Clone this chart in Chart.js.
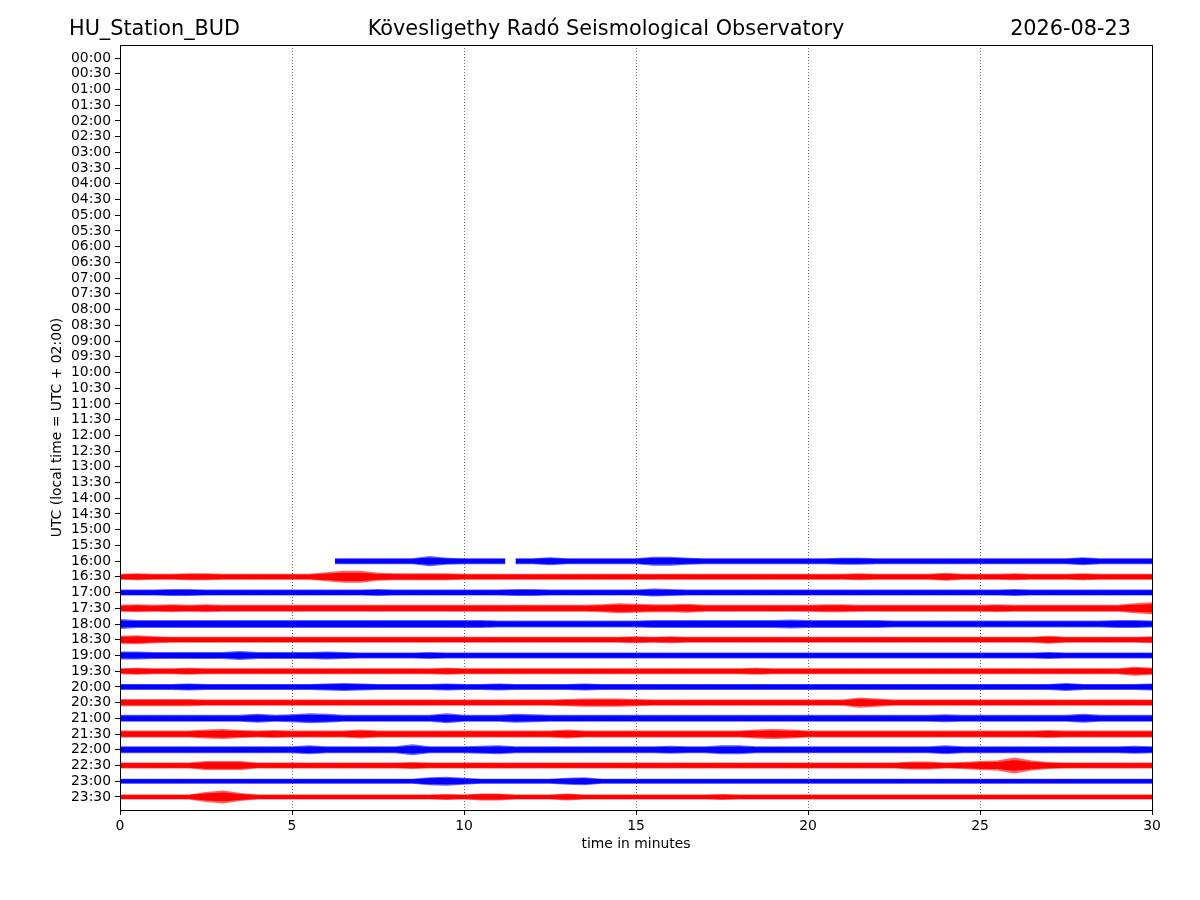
<!DOCTYPE html>
<html lang="en">
  <head>
    <meta charset="UTF-8" />
    <title>HU_Station_BUD dayplot</title>
    <script src="https://cdn.jsdelivr.net/npm/chart.js"></script>
    <style>
      html,
      body {
        margin: 0;
        padding: 0;
        background: #fff;
      }
    </style>
  </head>
  <body>
    <canvas id="dayplot" width="1200" height="900"></canvas>

    <script>
      const STATION = "HU_Station_BUD";
      const OBSERVATORY = "Kövesligethy Radó Seismological Observatory";
      const DAY = "2026-08-23";

      // one row per half hour, 00:00 at the top
      const ROW_LABELS = [
        "00:00", "00:30", "01:00", "01:30", "02:00", "02:30", "03:00", "03:30",
        "04:00", "04:30", "05:00", "05:30", "06:00", "06:30", "07:00", "07:30",
        "08:00", "08:30", "09:00", "09:30", "10:00", "10:30", "11:00", "11:30",
        "12:00", "12:30", "13:00", "13:30", "14:00", "14:30", "15:00", "15:30",
        "16:00", "16:30", "17:00", "17:30", "18:00", "18:30", "19:00", "19:30",
        "20:00", "20:30", "21:00", "21:30", "22:00", "22:30", "23:00", "23:30",
      ];

      const X_TICKS = [0, 5, 10, 15, 20, 25, 30];

      // sample times (minutes into the row) for the full rows
      const MINUTES = [
        0, 0.5, 1, 1.5, 2, 2.5, 3, 3.5, 4, 4.5, 5, 5.5, 6, 6.5, 7, 7.5, 8, 8.5,
        9, 9.5, 10, 10.5, 11, 11.5, 12, 12.5, 13, 13.5, 14, 14.5, 15, 15.5, 16,
        16.5, 17, 17.5, 18, 18.5, 19, 19.5, 20, 20.5, 21, 21.5, 22, 22.5, 23,
        23.5, 24, 24.5, 25, 25.5, 26, 26.5, 27, 27.5, 28, 28.5, 29, 29.5, 30,
      ];

      // 16:00 row starts late and has a short gap
      const TIMES_1600 = [
        6.25, 6.5, 7, 7.5, 8, 8.5, 9, 9.5, 10, 10.5, 11, 11.2, 11.35, 11.5, 12,
        12.5, 13, 13.5, 14, 14.5, 15, 15.5, 16, 16.5, 17, 17.5, 18, 18.5, 19,
        19.5, 20, 20.5, 21, 21.5, 22, 22.5, 23, 23.5, 24, 24.5, 25, 25.5, 26,
        26.5, 27, 27.5, 28, 28.5, 29, 29.5, 30,
      ];

      // half-amplitude envelope of each trace (relative counts)
      const AMP_1600 = [
        3, 3, 3, 3, 3, 3, 5, 3.5, 3, 3, 3, 3, null, 3, 3, 4, 3, 3, 3, 3, 3, 4.5,
        4.5, 3.5, 3, 3, 3, 3, 3, 3, 3, 3, 3.5, 3.5, 3, 3, 3, 3, 3, 3, 3, 3, 3, 3,
        3, 3, 4, 3, 3, 3, 3,
      ];
      const AMP_1630 = [
        3, 3.5, 3, 3, 3.5, 3.5, 3, 3, 3, 3, 3, 3, 4.5, 6, 6, 4, 3.5, 3.5, 3.5, 3.5,
        3, 3, 3, 3, 3, 3, 3, 3, 3, 3, 3, 3, 3, 3, 3, 3, 3, 3, 3, 3,
        3, 3, 3, 3.5, 3, 3, 3, 3, 4, 3, 3, 3, 3.5, 3, 3, 3, 3.5, 3, 3, 3, 3,
      ];
      const AMP_1700 = [
        3, 3, 3, 3.5, 3.5, 3, 3, 3, 3, 3, 3, 3, 3, 3, 3, 3.5, 3, 3, 3, 3,
        3, 3, 3, 3.5, 3.5, 3, 3, 3, 3, 3, 3, 4, 3.5, 3, 3, 3, 3, 3, 3, 3,
        3, 3, 3, 3, 3, 3, 3, 3, 3, 3, 3, 3, 3.5, 3, 3, 3, 3, 3, 3, 3, 3,
      ];
      const AMP_1730 = [
        3.5, 4, 3.5, 4, 3.5, 4, 3.5, 3.5, 3.5, 3.5, 3.5, 3.5, 3.5, 3.5, 3.5, 3.5,
        3.5, 3.5, 3.5, 3.5, 3.5, 3.5, 3.5, 3.5, 3.5, 3.5, 3.5, 3.5, 4, 5,
        4.5, 4, 4, 4.5, 3.5, 3.5, 3.5, 3.5, 3.5, 3.5, 3.5, 4, 4, 3.5, 3.5, 3.5,
        3.5, 3.5, 3.5, 3.5, 3.5, 4, 3.5, 3.5, 3.5, 3.5, 3.5, 3.5, 3.5, 5, 6,
      ];
      const AMP_1800 = [
        5, 4, 4, 4, 4, 4, 4, 4, 4, 4, 4, 4, 4, 4, 4, 4, 4, 4, 4, 4,
        4, 4, 3.5, 3.5, 3.5, 3.5, 3.5, 3.5, 3.5, 3.5, 3.5, 4, 4, 4, 4, 4, 4, 4,
        4, 4.5, 4, 4, 4, 4, 4, 3.5, 3.5, 3.5, 3.5, 3.5, 3.5, 3.5, 3.5, 3.5, 3.5,
        3.5, 3.5, 3.5, 4, 4, 3.5,
      ];
      const AMP_1830 = [
        4, 4.5, 3.5, 3, 3, 3, 3, 3, 3, 3, 3, 3, 3, 3, 3, 3, 3, 3, 3, 3,
        3, 3, 3, 3, 3, 3, 3, 3, 3, 3, 3.5, 3, 3.5, 3, 3, 3, 3, 3, 3, 3,
        3, 3, 3, 3, 3, 3, 3, 3, 3, 3, 3, 3, 3, 3, 4, 3, 3, 3, 3, 3, 3.5,
      ];
      const AMP_1900 = [
        4, 4, 3.5, 3.5, 3.5, 3.5, 3.5, 4.5, 3.5, 3.5, 3.5, 3.5, 4, 3.5, 3, 3, 3,
        3, 3.5, 3, 3, 3, 3, 3, 3, 3, 3, 3, 3, 3, 3, 3, 3, 3, 3, 3, 3, 3, 3, 3,
        3, 3, 3, 3, 3, 3, 3, 3, 3, 3, 3, 3, 3, 3, 3.5, 3, 3, 3, 3, 3, 3,
      ];
      const AMP_1930 = [
        3, 3.5, 3, 3, 3.5, 3, 3, 3, 3, 3, 3, 3, 3, 3, 3, 3, 3, 3, 3, 3.5,
        3, 3, 3, 3, 3, 3, 3, 3, 3, 3, 3, 3, 3, 3, 3, 3, 3, 3.5, 3, 3,
        3, 3, 3, 3, 3, 3, 3, 3, 3, 3, 3, 3, 3, 3, 3, 3, 3, 3, 3, 4.5, 3.5,
      ];
      const AMP_2000 = [
        3, 3, 3, 3, 3.5, 3, 3, 3, 3, 3, 3, 3, 3.5, 4, 3.5, 3, 3, 3, 3, 3.5,
        3, 3, 3.5, 3, 3, 3, 3, 3.5, 3, 3, 3, 3, 3, 3, 3, 3, 3, 3, 3, 3,
        3, 3, 3, 3, 3, 3, 3, 3, 3, 3, 3, 3, 3, 3, 3, 4, 3, 3, 3, 3, 3.5,
      ];
      const AMP_2030 = [
        3.5, 3.5, 3.5, 3.5, 3.5, 3, 3, 3, 3, 3, 3, 3, 3, 3, 3, 3, 3, 3, 3, 3,
        3, 3, 3, 3, 3, 3, 3.5, 4, 4, 4, 3.5, 3, 3, 3, 3, 3, 3, 3, 3, 3,
        3, 3, 3, 5, 4, 3, 3, 3, 3, 3, 3, 3, 3, 3, 3, 3, 3, 3, 3, 3, 3,
      ];
      const AMP_2100 = [
        3.5, 3.5, 3.5, 3.5, 3.5, 3.5, 3.5, 3.5, 4.5, 3.5, 4, 5, 4.5, 3.5, 3.5,
        3.5, 3.5, 3.5, 3.5, 5, 3.5, 3.5, 3.5, 4.5, 4, 3.5, 3.5, 3.5, 3.5, 3.5,
        3.5, 3.5, 3.5, 3.5, 3.5, 3.5, 3.5, 3.5, 3.5, 3.5, 3.5, 3.5, 3.5, 3.5,
        3.5, 3.5, 3.5, 3.5, 4, 3.5, 3.5, 3.5, 3.5, 3.5, 3.5, 3.5, 4.5, 3.5, 3.5,
        3.5, 3.5,
      ];
      const AMP_2130 = [
        3.5, 3.5, 3.5, 3.5, 3.5, 4.5, 5, 4, 3.5, 4, 3.5, 3.5, 3.5, 3.5, 4.5, 3.5,
        3.5, 3.5, 3.5, 3.5, 3.5, 3.5, 3.5, 3.5, 3.5, 3.5, 4.5, 3.5, 3.5, 3.5,
        3.5, 3.5, 3.5, 3.5, 3.5, 3.5, 3.5, 4.5, 5, 4.5, 3.5, 3.5, 3.5, 3.5, 3.5,
        3.5, 3.5, 3.5, 3.5, 3.5, 3.5, 3.5, 3.5, 3.5, 4, 3.5, 3.5, 3.5, 3.5, 3.5,
        3.5,
      ];
      const AMP_2200 = [
        3.5, 3.5, 3.5, 3.5, 3.5, 3.5, 3.5, 3.5, 3.5, 3.5, 3.5, 4.5, 3.5, 3.5,
        3.5, 3.5, 3.5, 5.5, 3.5, 3.5, 3.5, 4, 4.5, 3.5, 3.5, 3.5, 3.5, 3.5, 3.5,
        3.5, 3.5, 3.5, 4, 3.5, 3.5, 4.5, 4.5, 3.5, 3.5, 3.5, 3.5, 3.5, 3.5, 3.5,
        3.5, 3.5, 3.5, 3.5, 4.5, 3.5, 3.5, 3.5, 3.5, 3.5, 3.5, 3.5, 3.5, 3.5,
        3.5, 4, 3.5,
      ];
      const AMP_2230 = [
        3, 3, 3, 3, 3, 4.5, 4.5, 4.5, 3, 3, 3, 3, 3, 3, 3, 3, 3, 3.5, 3, 3,
        3, 3, 3, 3, 3, 3, 3, 3, 3, 3, 3, 3, 3, 3, 3, 3, 3, 3, 3, 3,
        3, 3, 3, 3, 3, 3, 4, 4, 3, 3.5, 4.5, 5, 8, 5, 3.5, 3, 3, 3, 3, 3, 3,
      ];
      const AMP_2300 = [
        2.5, 2.5, 2.5, 2.5, 2.5, 2.5, 2.5, 2.5, 2.5, 2.5, 2.5, 2.5, 2.5, 2.5,
        2.5, 2.5, 2.5, 2.5, 4, 4.5, 3.5, 2.5, 2.5, 2.5, 2.5, 2.5, 3.5, 4, 2.5,
        2.5, 2.5, 2.5, 2.5, 2.5, 2.5, 2.5, 2.5, 2.5, 2.5, 2.5, 2.5, 2.5, 2.5,
        2.5, 2.5, 2.5, 2.5, 2.5, 2.5, 2.5, 2.5, 2.5, 2.5, 2.5, 2.5, 2.5, 2.5,
        2.5, 2.5, 2.5, 2.5,
      ];
      const AMP_2330 = [
        2.5, 2.5, 2.5, 2.5, 2.5, 5, 6.5, 4, 2.5, 2.5, 2.5, 2.5, 2.5, 2.5, 2.5,
        2.5, 2.5, 2.5, 2.5, 3, 2.5, 3.5, 3.5, 2.5, 2.5, 2.5, 3.5, 2.5, 2.5, 2.5,
        2.5, 2.5, 2.5, 2.5, 2.5, 3, 2.5, 2.5, 2.5, 2.5, 2.5, 2.5, 2.5, 2.5, 2.5,
        2.5, 2.5, 2.5, 2.5, 2.5, 2.5, 2.5, 2.5, 2.5, 2.5, 2.5, 2.5, 2.5, 2.5,
        2.5, 2.5,
      ];

      const TRACES = [
        { label: "16:00", times: TIMES_1600, amp: AMP_1600 },
        { label: "16:30", times: MINUTES, amp: AMP_1630 },
        { label: "17:00", times: MINUTES, amp: AMP_1700 },
        { label: "17:30", times: MINUTES, amp: AMP_1730 },
        { label: "18:00", times: MINUTES, amp: AMP_1800 },
        { label: "18:30", times: MINUTES, amp: AMP_1830 },
        { label: "19:00", times: MINUTES, amp: AMP_1900 },
        { label: "19:30", times: MINUTES, amp: AMP_1930 },
        { label: "20:00", times: MINUTES, amp: AMP_2000 },
        { label: "20:30", times: MINUTES, amp: AMP_2030 },
        { label: "21:00", times: MINUTES, amp: AMP_2100 },
        { label: "21:30", times: MINUTES, amp: AMP_2130 },
        { label: "22:00", times: MINUTES, amp: AMP_2200 },
        { label: "22:30", times: MINUTES, amp: AMP_2230 },
        { label: "23:00", times: MINUTES, amp: AMP_2300 },
        { label: "23:30", times: MINUTES, amp: AMP_2330 },
      ];

      // counts -> row units
      const AMP_SCALE = 1 / 15.7;
      // dense core of the trace vs. its faint peaks
      const CORE = 0.6;

      Chart.defaults.font.family = "'DejaVu Sans', sans-serif";
      Chart.defaults.font.size = 13.9;
      Chart.defaults.color = "#000";

      function edge(trace, sign) {
        const row = ROW_LABELS.indexOf(trace.label);
        return trace.times.map((t, i) => ({
          x: t,
          y: trace.amp[i] == null ? null : row + sign * trace.amp[i] * AMP_SCALE,
        }));
      }

      const datasets = [];
      TRACES.forEach((trace) => {
        const row = ROW_LABELS.indexOf(trace.label);
        const blue = row % 2 === 0;
        const solid = blue ? "#0000ff" : "#ff0000";
        const faint = blue ? "rgba(0, 0, 255, 0.62)" : "rgba(255, 0, 0, 0.62)";
        const common = { pointRadius: 0, tension: 0, spanGaps: false };
        // faint envelope
        datasets.push({ ...common, data: edge(trace, -1), borderWidth: 0, borderColor: faint, backgroundColor: faint, fill: false });
        datasets.push({ ...common, data: edge(trace, 1), borderWidth: 0, borderColor: faint, backgroundColor: faint, fill: "-1" });
        // solid core
        datasets.push({ ...common, data: edge(trace, -CORE), borderWidth: 1, borderColor: solid, backgroundColor: solid, fill: false });
        datasets.push({ ...common, data: edge(trace, CORE), borderWidth: 1, borderColor: solid, backgroundColor: solid, fill: "-1" });
      });

      // frame and the three header texts
      const decorations = {
        id: "decorations",
        afterDraw(chart) {
          const { ctx, chartArea: a } = chart;
          ctx.save();
          ctx.strokeStyle = "#000";
          ctx.lineWidth = 1;
          ctx.strokeRect(a.left + 0.5, a.top + 0.5, a.right - a.left, a.bottom - a.top);
          ctx.fillStyle = "#000";
          ctx.font = "20.8px 'DejaVu Sans', sans-serif";
          ctx.textBaseline = "alphabetic";
          ctx.textAlign = "left";
          ctx.fillText(STATION, 69, 35);
          ctx.textAlign = "center";
          ctx.fillText(OBSERVATORY, 606, 35);
          ctx.textAlign = "right";
          ctx.fillText(DAY, 1131, 35);
          ctx.restore();
        },
      };

      new Chart(document.getElementById("dayplot"), {
        type: "line",
        data: { datasets: datasets },
        options: {
          responsive: false,
          animation: false,
          devicePixelRatio: 1,
          layout: { padding: { left: 0, right: 48, top: 45, bottom: 40 } },
          plugins: {
            legend: { display: false },
            tooltip: { enabled: false },
          },
          scales: {
            x: {
              type: "linear",
              min: 0,
              max: 30,
              afterBuildTicks: (s) => {
                s.ticks = X_TICKS.map((v) => ({ value: v }));
              },
              afterFit: (s) => {
                s.height = 50;
              },
              ticks: { padding: 3 },
              grid: {
                color: "rgba(0, 0, 0, 0.75)",
                lineWidth: 0.8,
                tickColor: "#000",
                tickLength: 5,
                tickWidth: 1,
              },
              border: { display: false, dash: [1, 2] },
              title: {
                display: true,
                text: "time in minutes",
                padding: { top: 0, bottom: 7 },
              },
            },
            y: {
              type: "linear",
              reverse: true,
              min: -0.83,
              max: 47.83,
              afterBuildTicks: (s) => {
                s.ticks = ROW_LABELS.map((_, i) => ({ value: i }));
              },
              afterFit: (s) => {
                s.width = 120;
              },
              ticks: {
                autoSkip: false,
                padding: 4,
                callback: (v) => ROW_LABELS[v],
              },
              grid: {
                drawOnChartArea: false,
                tickColor: "#000",
                tickLength: 5,
                tickWidth: 1,
              },
              border: { display: false },
              title: {
                display: true,
                text: "UTC (local time = UTC + 02:00)",
                padding: { top: 49, bottom: 0 },
              },
            },
          },
        },
        plugins: [decorations],
      });
    </script>
  </body>
</html>
